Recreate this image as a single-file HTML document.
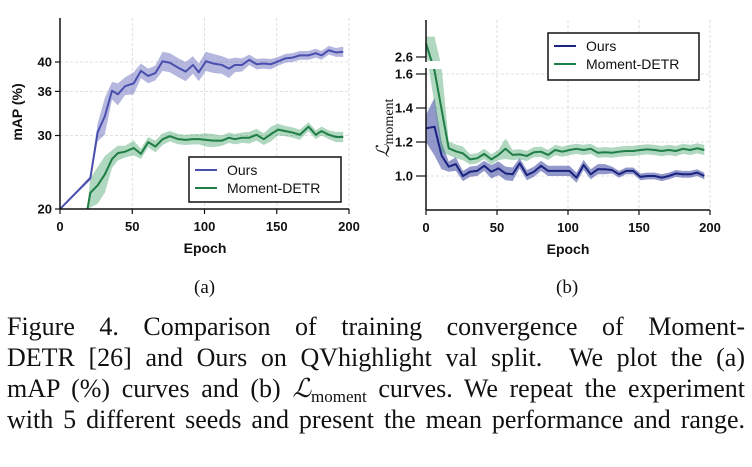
<!DOCTYPE html>
<html><head><meta charset="utf-8">
<style>
body{margin:0;background:#fff;width:752px;height:467px;overflow:hidden;position:relative;font-family:"Liberation Sans",sans-serif}
svg{position:absolute;left:0;top:0}
.cap{position:absolute;left:7px;width:738px;font-family:"Liberation Serif",serif;font-size:26px;line-height:31px;text-align:justify;text-align-last:justify;white-space:nowrap;color:#111}
.sub{position:absolute;font-family:"Liberation Serif",serif;font-size:19px;color:#111}
</style></head><body>
<svg id="chart" width="752" height="300"></svg>
<div class="sub" style="left:194px;top:277px">(a)</div>
<div class="sub" style="left:556px;top:277px">(b)</div>
<div class="cap" style="top:311px;">Figure 4. Comparison of training convergence of Moment-</div>
<div class="cap" style="top:342px;">DETR [26] and Ours on QVhighlight val split.&nbsp; We plot the (a)</div>
<div class="cap" style="top:373px;">mAP (%) curves and (b) <i>ℒ</i><span style="font-size:17px;vertical-align:-5px">moment</span> curves. We repeat the experiment</div>
<div class="cap" style="top:404px;">with 5 different seeds and present the mean performance and range.</div>
<script>
const aEpochsOurs=[0,21,26,31,36,40,45,51,56,61,66,71,76,82,87,92,96,101,106,112,117,121,126,131,136,141,146,151,156,161,166,172,177,181,186,191,196];
const aOurs=[20,24.2,30.4,32.6,36.1,35.6,36.7,37.1,38.8,38.1,38.5,40.1,39.9,39.2,38.7,39.6,38.6,40.1,39.8,39.6,39.1,39.6,39.6,40.3,39.7,39.8,39.7,40.1,40.5,40.6,40.9,40.9,41.2,40.9,41.6,41.3,41.4];
const aOursSpread=[0,0.3,1.2,2.5,1.2,1.5,1.2,1.5,1.0,1.0,1.0,1.3,1.3,1.3,1.3,1.2,1.2,1.3,1.3,1.2,1.3,1.0,0.9,0.7,0.7,0.7,0.7,0.6,0.6,0.6,0.6,0.6,0.6,0.6,0.6,0.6,0.7];
const aEpochsDetr=[19,21,26,31,36,40,45,51,56,61,66,71,76,82,87,92,96,101,106,112,117,121,126,131,136,141,146,151,156,161,166,172,177,181,186,191,196];
const aDetr=[20,22.2,23.2,24.7,26.8,27.6,27.8,28.3,27.5,29.1,28.5,29.5,29.9,29.5,29.4,29.5,29.5,29.4,29.3,29.3,29.7,29.5,29.7,29.7,30.1,29.5,30.2,30.8,30.6,30.4,30.1,31.2,30.1,30.6,30.1,29.8,29.8];
const aDetrSpread=[0.5,2.0,2.5,2.5,1.2,1.0,0.8,1.0,0.7,0.7,0.8,0.8,0.7,0.7,0.7,0.7,0.7,0.9,0.9,0.7,0.7,0.7,0.7,0.8,0.8,0.8,1.0,0.8,0.7,0.7,0.7,0.6,0.6,0.6,0.6,0.7,0.7];
const aYTicks=[20,30,36,40];
const xTicks=[0,50,100,150,200];
const bEpochs=[0,6,11,16,21,26,31,36,41,46,51,56,61,66,71,76,81,86,91,96,101,106,111,116,121,126,131,136,141,146,151,156,161,166,171,176,181,186,191,196];
const bOurs=[1.28,1.29,1.12,1.055,1.07,1.0,1.025,1.03,1.06,1.025,1.045,1.015,1.01,1.075,1.005,1.025,1.06,1.03,1.03,1.03,1.03,0.99,1.065,1.01,1.04,1.04,1.035,1.01,1.03,1.03,0.995,1.0,1.0,0.99,1.0,1.015,1.01,1.01,1.02,1.0];
const bOursSpread=[0.08,0.17,0.08,0.03,0.04,0.03,0.03,0.03,0.03,0.04,0.04,0.04,0.04,0.03,0.03,0.03,0.03,0.03,0.03,0.03,0.03,0.03,0.03,0.03,0.03,0.03,0.02,0.02,0.02,0.02,0.02,0.02,0.02,0.02,0.02,0.02,0.02,0.02,0.02,0.02];
const bDetr=[2.68,1.62,1.39,1.163,1.145,1.133,1.098,1.104,1.13,1.098,1.124,1.16,1.124,1.127,1.118,1.14,1.143,1.124,1.153,1.143,1.153,1.16,1.153,1.16,1.137,1.14,1.137,1.143,1.147,1.147,1.153,1.157,1.153,1.147,1.153,1.147,1.16,1.153,1.163,1.153];
const bDetrSpread=[0.04,0.2,0.25,0.04,0.04,0.04,0.03,0.03,0.03,0.03,0.03,0.06,0.03,0.03,0.03,0.03,0.03,0.03,0.03,0.03,0.03,0.03,0.03,0.03,0.03,0.03,0.03,0.03,0.03,0.03,0.03,0.03,0.03,0.03,0.03,0.03,0.03,0.03,0.03,0.03];
const bYTicks=[1.0,1.2,1.4,1.6];

const NS="http://www.w3.org/2000/svg";
const svg=document.getElementById('chart');
function mk(tag,attrs,name,parent){const e=document.createElementNS(NS,tag);for(const k in attrs)e.setAttribute(k,attrs[k]);


(parent||svg).appendChild(e);return e;}
function txt(x,y,s,name,extra){const t=mk('text',Object.assign({x:x,y:y,'font-family':'Liberation Sans, sans-serif','font-size':13,'font-weight':'bold',fill:'#111'},extra||{}),name);t.textContent=s;return t;}

const ax=e=>60+(e/200)*289;
const ay=v=>209-(v-20)*7.35;
const bx=e=>426+(e/200)*284;
const by=v=>v>=2.0?57-(v-2.6)*170:176-(v-1.0)*170;

function grid(xf,yf,xt,yt,x0,x1,y0,y1,p){
 xt.forEach(t=>{if(t>0)mk('line',{x1:xf(t),x2:xf(t),y1:y0,y2:y1,stroke:'#d6d6d6','stroke-dasharray':'3,2','stroke-width':0.8},p+'-grid-x');});
 yt.forEach(t=>{mk('line',{x1:x0,x2:x1,y1:yf(t),y2:yf(t),stroke:'#d6d6d6','stroke-dasharray':'3,2','stroke-width':0.8},p+'-grid-y');});
}
grid(ax,ay,xTicks,[30,36,40],60,349,18,209,'a');
grid(bx,by,xTicks,bYTicks,426,710,20,210,'b');

function band(xf,yf,ep,vals,sp,fill,op,name,g){
 let up=ep.map((e,i)=>xf(e)+','+yf(vals[i]+sp[i]));
 let lo=ep.map((e,i)=>xf(e)+','+yf(vals[i]-sp[i])).reverse();
 mk('polygon',{points:up.concat(lo).join(' '),fill:fill,'fill-opacity':op},name,g);
}
function line(xf,yf,ep,vals,color,name,g){
 mk('polyline',{points:ep.map((e,i)=>xf(e)+','+yf(vals[i])).join(' '),fill:'none',stroke:color,'stroke-width':2,'stroke-linejoin':'round'},name,g);
}
const defs=mk('defs',{},'defs');
const cp=mk('clipPath',{id:'clipA'},'clip-a',defs);
mk('rect',{x:60,y:10,width:300,height:199},'clip-a-rect',cp);
const gA=mk('g',{'clip-path':'url(#clipA)'},'chart-a-series');
band(ax,ay,aEpochsOurs,aOurs,aOursSpread,'#5a5fb8',0.45,'ours-range-band-a',gA);
band(ax,ay,aEpochsDetr,aDetr,aDetrSpread,'#3a9a60',0.4,'detr-range-band-a',gA);
line(ax,ay,aEpochsOurs,aOurs,'#4a4fae','ours-line-a',gA);
line(ax,ay,aEpochsDetr,aDetr,'#1e7e45','detr-line-a',gA);

band(bx,by,bEpochs,bOurs,bOursSpread,'#3a43a0',0.55,'ours-range-band-b');
band(bx,by,bEpochs,bDetr,bDetrSpread,'#3a9a60',0.4,'detr-range-band-b');
line(bx,by,bEpochs,bOurs,'#1a237e','ours-line-b');
line(bx,by,bEpochs,bDetr,'#1e7e45','detr-line-b');
mk('rect',{x:412,y:61,width:36,height:8,fill:'#fff'},'axis-break-gap');

mk('line',{x1:60,x2:60,y1:18,y2:209,stroke:'#111','stroke-width':1.5},'a-y-axis');
mk('line',{x1:60,x2:349,y1:209,y2:209,stroke:'#111','stroke-width':1.5},'a-x-axis');
aYTicks.forEach(t=>{mk('line',{x1:55,x2:60,y1:ay(t),y2:ay(t),stroke:'#111','stroke-width':1.2},'a-y-tick');txt(52,ay(t)+4.5,String(t),'a-y-tick-label',{'text-anchor':'end'});});
xTicks.forEach(t=>{mk('line',{x1:ax(t),x2:ax(t),y1:209,y2:214,stroke:'#111','stroke-width':1.2},'a-x-tick');txt(ax(t),231,String(t),'a-x-tick-label',{'text-anchor':'middle'});});
txt(205,253,'Epoch','a-x-axis-title',{'text-anchor':'middle','font-size':14});
txt(0,0,'mAP (%)','a-y-axis-title',{'text-anchor':'middle','font-size':14,transform:'translate(22,112) rotate(-90)'});

mk('line',{x1:426,x2:426,y1:20,y2:62,stroke:'#111','stroke-width':1.5},'b-y-axis-upper');
mk('line',{x1:426,x2:426,y1:68,y2:210,stroke:'#111','stroke-width':1.5},'b-y-axis-lower');
mk('line',{x1:426,x2:710,y1:210,y2:210,stroke:'#111','stroke-width':1.5},'b-x-axis');
[2.6].concat(bYTicks).forEach(t=>{mk('line',{x1:416,x2:426,y1:by(t),y2:by(t),stroke:'#111','stroke-width':1.2},'b-y-tick');txt(413,by(t)+4.5,t.toFixed(1),'b-y-tick-label',{'text-anchor':'end'});});
xTicks.forEach(t=>{mk('line',{x1:bx(t),x2:bx(t),y1:210,y2:215,stroke:'#111','stroke-width':1.2},'b-x-tick');txt(bx(t),232,String(t),'b-x-tick-label',{'text-anchor':'middle'});});
txt(568,254,'Epoch','b-x-axis-title',{'text-anchor':'middle','font-size':14});
const yl=mk('text',{x:0,y:0,'font-family':'Liberation Serif, serif','font-size':18,fill:'#111','text-anchor':'middle',transform:'translate(389,128) rotate(-90)'},'b-y-axis-title');
yl.innerHTML='<tspan font-style="italic">ℒ</tspan><tspan font-size="14" dy="4">moment</tspan>';

function legend(x,y,w,h,p){
 mk('rect',{x:x,y:y,width:w,height:h,fill:'#fff',stroke:'#111','stroke-width':1.5},p+'-legend-box');
 mk('line',{x1:x+6,x2:x+28,y1:y+13,y2:y+13,stroke:p==='a'?'#4a4fae':'#1a237e','stroke-width':2},p+'-legend-ours-swatch');
 txt(x+38,y+18,'Ours',p+'-legend-ours-label',{'font-weight':'normal','font-size':14});
 mk('line',{x1:x+6,x2:x+28,y1:y+31,y2:y+31,stroke:'#1e7e45','stroke-width':2},p+'-legend-detr-swatch');
 txt(x+38,y+36,'Moment-DETR',p+'-legend-detr-label',{'font-weight':'normal','font-size':14});
}
legend(189,157,152,45,'a');
legend(548,33,151,47,'b');
</script>
</body></html>
